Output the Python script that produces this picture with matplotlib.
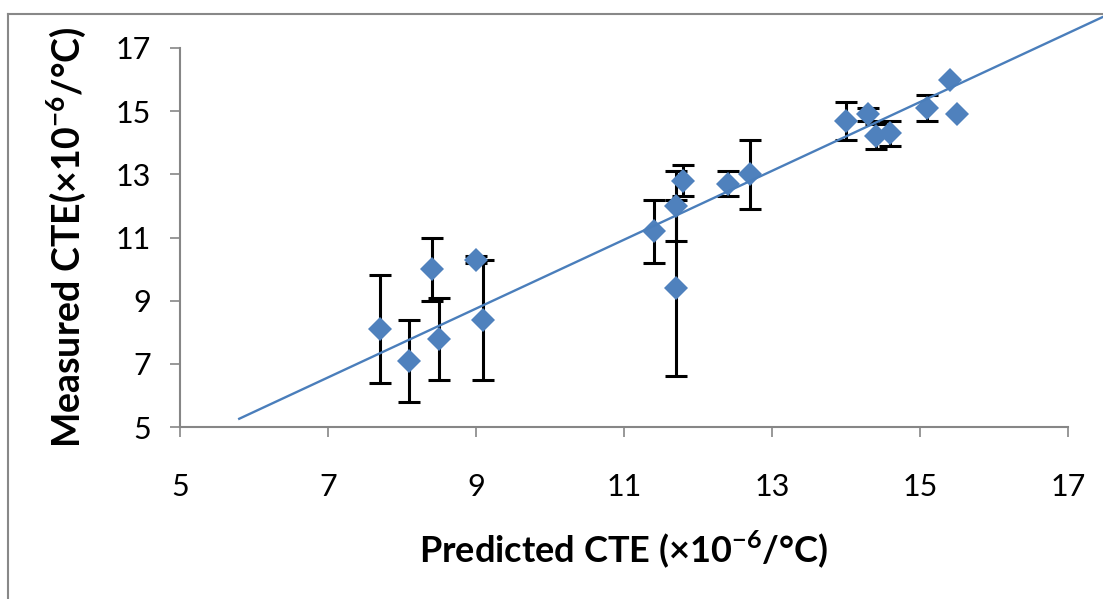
import numpy as np
import matplotlib
matplotlib.use("Agg")
import matplotlib.pyplot as plt
from matplotlib.lines import Line2D

plt.rcParams['font.family'] = ['Lato', 'DejaVu Sans']
plt.rcParams['mathtext.fontset'] = 'custom'
plt.rcParams['mathtext.rm'] = 'Lato'
plt.rcParams['mathtext.bf'] = 'Lato:bold'

# data
predicted = [7.7, 8.1, 8.4, 8.5, 9.0, 9.1, 11.4, 11.7, 11.7, 11.8,
             12.4, 12.7, 14.0, 14.3, 14.4, 14.6, 15.1, 15.4, 15.5]
measured = [8.1, 7.1, 10.0, 7.8, 10.3, 8.4, 11.2, 12.0, 9.4, 12.8,
            12.7, 13.0, 14.7, 14.9, 14.2, 14.3, 15.1, 16.0, 14.9]
errors = [1.7, 1.3, 1.0, 1.3, 0.1, 1.9, 1.0, 1.1, 2.8, 0.5,
          0.4, 1.1, 0.6, 0.2, 0.4, 0.4, 0.4, np.nan, np.nan]

# linear trend line (slope, intercept) and its x range
trend_slope, trend_intercept = 1.09, -1.06
trend_x = [5.8, 17.6]

ticks = [5, 7, 9, 11, 13, 15, 17]

fig = plt.figure(figsize=(11.03, 5.99), dpi=100)
ax = fig.add_axes([0.1632, 0.2871, 0.8051, 0.6328])

ax.errorbar(predicted, measured, yerr=errors, fmt='none', ecolor='black',
            elinewidth=2.2, capsize=8, capthick=2.2, zorder=2)
ax.plot(predicted, measured, 'D', color='#4F81BD', markersize=12,
        markeredgewidth=0, zorder=3)

tx = np.array(trend_x)
ax.plot(tx, trend_slope * tx + trend_intercept, color='#4A7EBB',
        linewidth=1.7, clip_on=False, zorder=4)

ax.set_xlim(5, 17)
ax.set_ylim(5, 17)
ax.set_xticks(ticks)
ax.set_yticks(ticks)

for side in ['top', 'right']:
    ax.spines[side].set_visible(False)
for side in ['left', 'bottom']:
    ax.spines[side].set_color('#868686')
    ax.spines[side].set_linewidth(1.5)

ax.tick_params(axis='both', direction='out', length=7, width=1.2,
               color='#868686', labelsize=22)
ax.tick_params(axis='x', pad=26)
ax.tick_params(axis='y', pad=14)

ax.set_xlabel(r'Predicted CTE (×10$^{\mathbf{-6}}$/°C)', fontsize=26,
              fontweight='bold', labelpad=20)
ax.set_ylabel(r'Measured CTE(×10$^{\mathbf{-6}}$/°C)', fontsize=27,
              fontweight='bold', labelpad=20)

# chart frame (only top and left edges visible)
fig.add_artist(Line2D([8 / 1103, 1], [1 - 14 / 599, 1 - 14 / 599],
                      transform=fig.transFigure, color='#888888', linewidth=1.5))
fig.add_artist(Line2D([8 / 1103, 8 / 1103], [0, 1 - 14 / 599],
                      transform=fig.transFigure, color='#888888', linewidth=1.5))

fig.savefig('out.png', dpi=100)
